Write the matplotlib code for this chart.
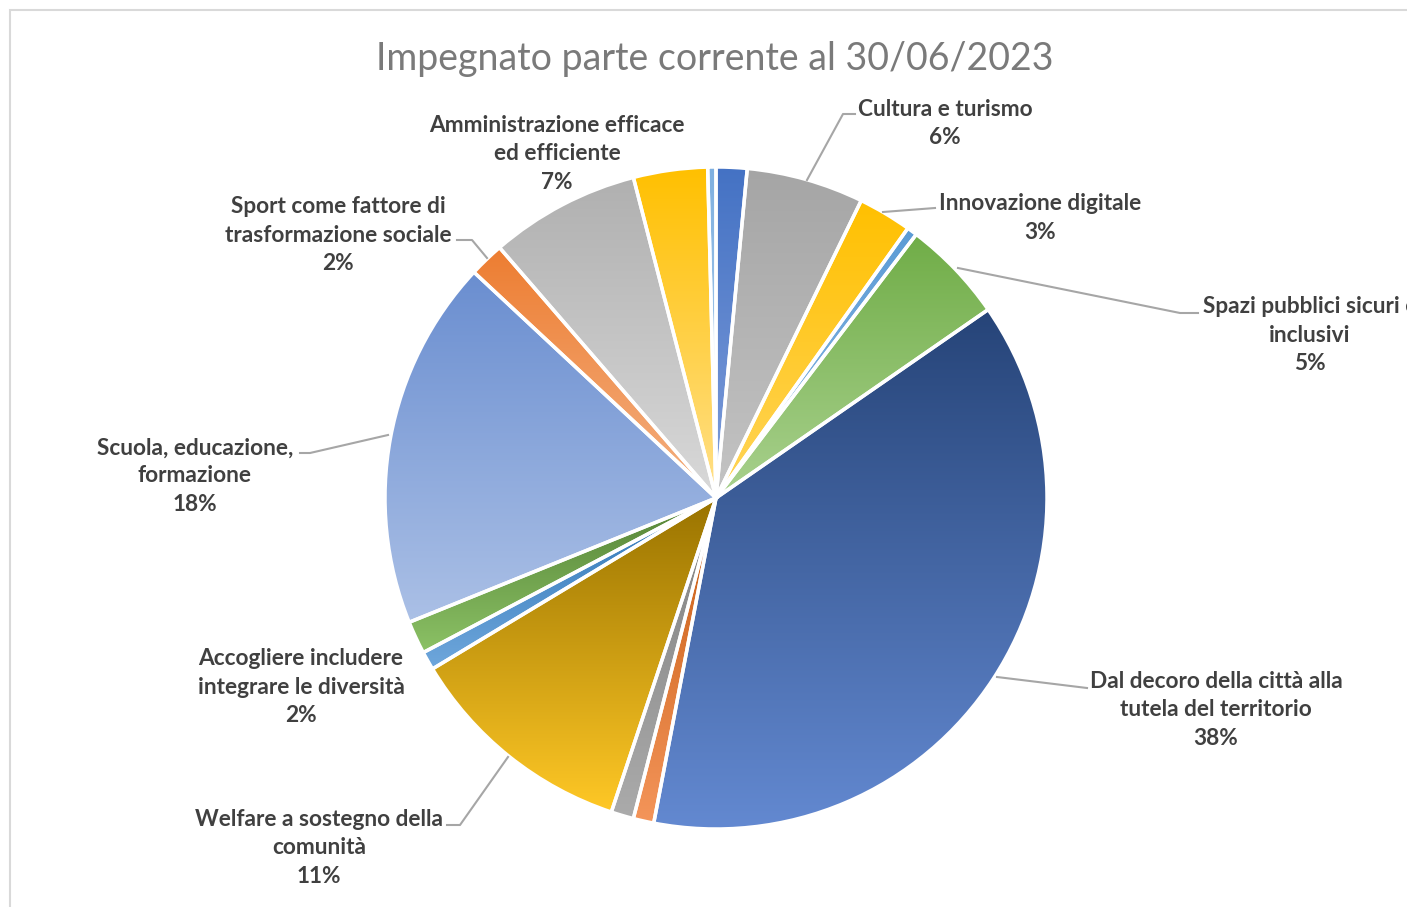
import numpy as np
import matplotlib
matplotlib.use("Agg")
import matplotlib.pyplot as plt
from matplotlib.colors import to_rgb

# ---------------- data ----------------
categories = ["", "Cultura e turismo", "Innovazione digitale", "",
              "Spazi pubblici sicuri e\ninclusivi",
              "Dal decoro della città alla\ntutela del territorio",
              "", "", "Welfare a sostegno della\ncomunità", "",
              "Accogliere includere\nintegrare le diversità",
              "Scuola, educazione,\nformazione",
              "Sport come fattore di\ntrasformazione sociale",
              "Amministrazione efficace\ned efficiente", "", ""]
values = [1.5, 5.7, 2.6, 0.5, 5.0, 37.5, 1.0, 1.1, 11.2, 0.9, 1.6,
          18.0, 1.7, 7.3, 3.6, 0.4]
top_colors = ["#4472C4", "#A5A5A5", "#FFC000", "#5B9BD5", "#70AD47",
              "#264478", "#C55A11", "#7F7F7F", "#997300", "#2E75B6",
              "#548235", "#6A8ED0", "#ED7D31", "#B0B0B0", "#FFC000",
              "#7FB0E0"]
bottom_colors = ["#7F9DDA", "#C4C4C4", "#FFD55A", "#8DBAE5", "#A9D18E",
                 "#6389D1", "#F4955A", "#ABABAB", "#FFC826", "#6FA7DC",
                 "#8CC266", "#ABC0E6", "#F4B183", "#D9D9D9", "#FFE08A",
                 "#B4D2EE"]
title = "Impegnato parte corrente al 30/06/2023"

W, H = 1407, 907
fig = plt.figure(figsize=(W / 100, H / 100), dpi=100)
ax = fig.add_axes([0, 0, 1, 1])
ax.set_xlim(0, W)
ax.set_ylim(0, H)
ax.set_aspect("equal")
ax.axis("off")

# chart border (top & left visible)
ax.plot([10, 10, W + 5], [-5, H - 10, H - 10], color="#D9D9D9", lw=1.5,
        solid_joinstyle="miter")

cx, cy, R = 716, H - 498, 331
wedges, _ = ax.pie(values, center=(cx, cy), radius=R, startangle=90,
                   counterclock=False, frame=True,
                   wedgeprops=dict(edgecolor="white", linewidth=2.5))
ax.set_xlim(0, W)
ax.set_ylim(0, H)
ax.axis("off")

for w, ct, cb in zip(wedges, top_colors, bottom_colors):
    bb = w.get_path().get_extents()
    t = np.linspace(0, 1, 256)[:, None]
    c0, c1 = np.array(to_rgb(ct)), np.array(to_rgb(cb))
    img = (c0[None, None, :] * (1 - t[:, :, None]) +
           c1[None, None, :] * t[:, :, None])
    img = np.repeat(img, 2, axis=1)
    im = ax.imshow(img, extent=(bb.x0, bb.x1, bb.y0, bb.y1), origin="upper",
                   aspect="auto", interpolation="bilinear", zorder=1)
    im.set_clip_path(w)
    w.set_facecolor("none")
    w.set_zorder(2)

ax.set_xlim(0, W)
ax.set_ylim(0, H)

# ---------------- labels ----------------
label_pos = {1: (945, 123.5), 2: (1040, 218), 4: (1310, 335),
             5: (1216, 710), 8: (319, 848), 10: (301, 687),
             11: (195, 476), 12: (338, 235), 13: (557, 154)}
total = sum(values)
font = ["Lato", "DejaVu Sans"]
for i, (lx, ly) in label_pos.items():
    pct = round(values[i] / total * 100)
    ax.text(lx, H - ly, f"{categories[i]}\n{pct}%", ha="center",
            va="center", fontsize=16.3, fontweight="bold", color="#404040",
            family=font, linespacing=1.42, zorder=5)

# leader lines (pixel space of chart area)
leaders = {1: [(807, 180), (843, 114), (855, 114)],
           2: [(883, 212), (935, 208)],
           4: [(958, 268), (1180, 313), (1198, 313)],
           5: [(997, 677), (1087, 688)],
           8: [(508, 757), (460, 825), (447, 825)],
           11: [(388, 435), (310, 453), (300, 453)],
           12: [(487, 258), (472, 240), (457, 240)]}
for i, pts in leaders.items():
    xs = [p[0] for p in pts]
    ys = [H - p[1] for p in pts]
    ax.plot(xs, ys, color="#A6A6A6", lw=1.5, zorder=3)

ax.text(715, H - 59, title, ha="center", va="center", fontsize=27,
        color="#7A7A7A", family=font, fontweight="normal")

fig.savefig("out.png", dpi=100)
